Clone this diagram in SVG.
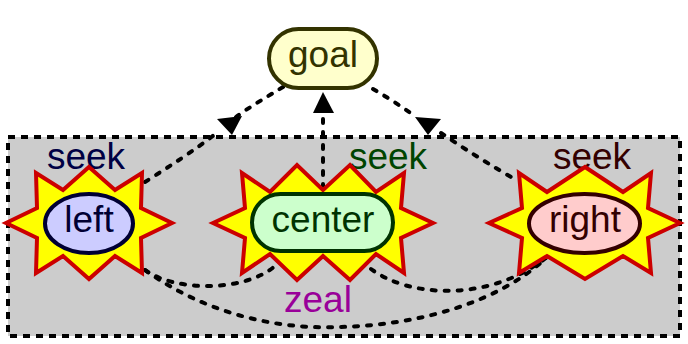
<svg xmlns="http://www.w3.org/2000/svg" width="688" height="344" viewBox="0 0 688 344">
<style>
text{font-family:"Liberation Sans",Arial,sans-serif;font-size:37px;text-anchor:middle}
.star{fill:#ffff00;stroke:#cc0000;stroke-width:4;stroke-linejoin:miter}
.edge{fill:none;stroke:#000;stroke-width:4;stroke-dasharray:4 9;stroke-linecap:round}
.head{fill:#000;stroke:none}
</style>
<rect x="0" y="0" width="688" height="344" fill="#fff"/>
<g id="cluster">
<rect x="8" y="137" width="672" height="199" fill="#cccccc" stroke="#000" stroke-width="4" stroke-dasharray="7 6"/>
<text x="86" y="169" fill="#000044">seek</text>
<text x="388" y="169" fill="#004400">seek</text>
<text x="592" y="169" fill="#330000">seek</text>
<text x="318" y="312" fill="#990099">zeal</text>
</g>
<g id="connectors">
<path class="edge" d="M283,87 C265,98 248,108 236,117"/>
<polygon class="head" points="217,119 242,116 232,135"/>
<path class="edge" d="M145,182 C170,166 195,150 214,135"/>
<path class="edge" d="M373,89 C390,99 404,108 416,117"/>
<polygon class="head" points="415,117 441,119 428,135"/>
<path class="edge" d="M441,133 C466,150 495,168 518,181"/>
<path class="edge" d="M323,188 L323,114"/>
<polygon class="head" points="313,113 334,113 323,92"/>
<path class="edge" d="M145,270 C175,292 245,292 275,266"/>
<path class="edge" d="M145,270 C200,310 270,330 340,327 C420,325 500,302 547,257"/>
<path class="edge" d="M371,269 C410,298 490,302 547,257"/>
</g>
<g id="left">
<polygon class="star" points="89,167 115,190 142,173 141,208 172,223 141,238 142,273 115,256 89,279 63,256 36,273 37,238 6,223 37,208 36,173 63,190"/>
<ellipse cx="89" cy="223.5" rx="44" ry="29.5" fill="#ccccff" stroke="#000033" stroke-width="4"/>
<text x="89" y="232" fill="#000033">left</text>
</g>
<g id="center">
<polygon class="star" points="213,223 245,208 242,173 270,192 297,165 323,190 350,165 376,192 404,173 401,208 433,223 401,238 404,273 376,254 350,280 323,256 297,280 270,254 242,273 245,238"/>
<rect x="252" y="194" width="141" height="57" rx="28.5" fill="#ccffcc" stroke="#003300" stroke-width="4"/>
<text x="323" y="232" fill="#003300">center</text>
</g>
<g id="right">
<polygon class="star" points="585,167 547,192 519,173 522,208 489,223 522,238 519,273 547,256 585,279 623,256 651,273 648,238 680,223 648,208 651,173 623,192"/>
<ellipse cx="584.5" cy="223.5" rx="55.5" ry="29.5" fill="#ffcccc" stroke="#330000" stroke-width="4"/>
<text x="585" y="232" fill="#330000">right</text>
</g>
<g id="goal">
<rect x="269" y="29" width="108" height="59" rx="29.5" fill="#ffffcc" stroke="#333300" stroke-width="4"/>
<text x="323" y="67" fill="#333300">goal</text>
</g>
</svg>
